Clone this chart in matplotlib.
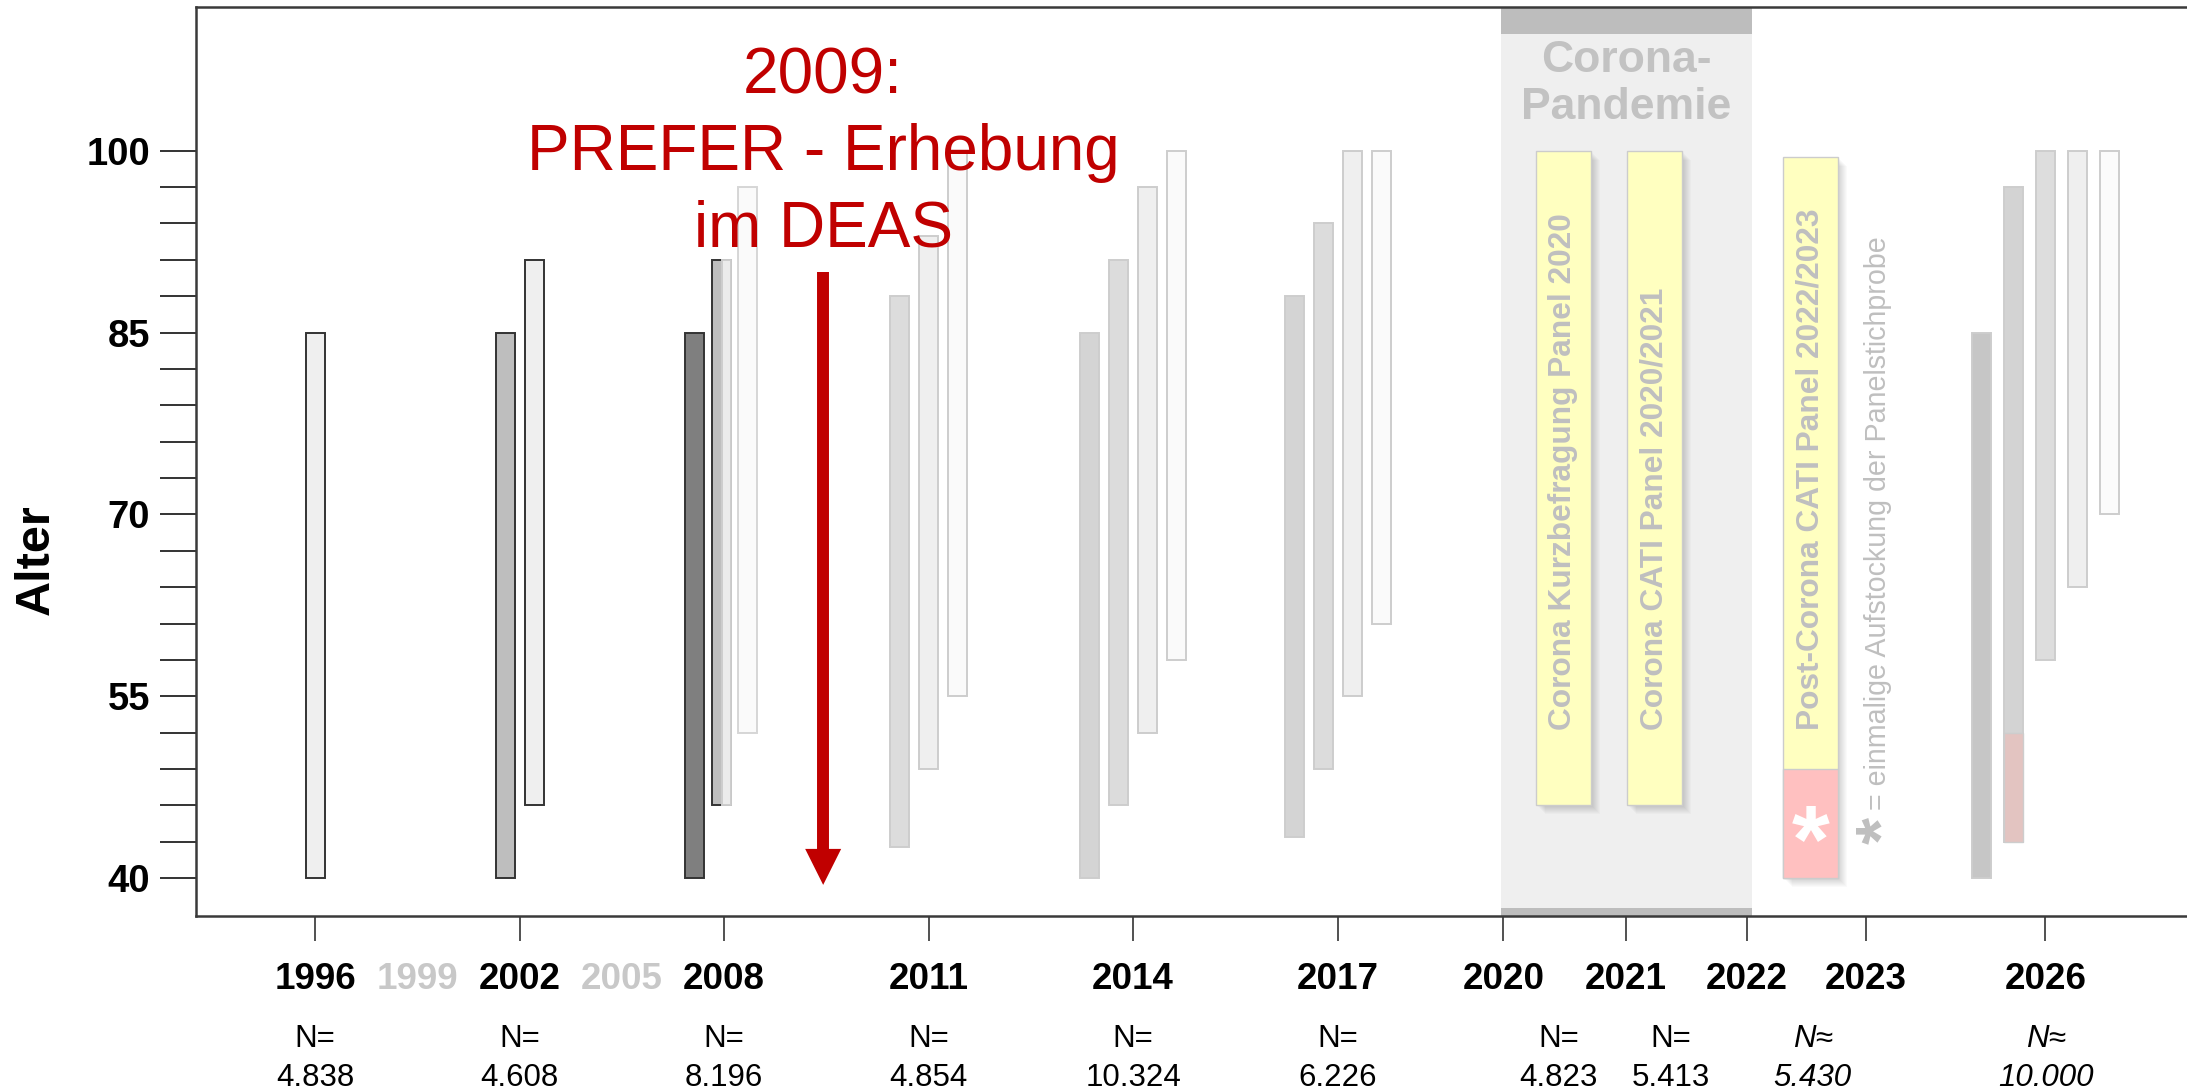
import matplotlib
matplotlib.use('Agg')
import matplotlib.pyplot as plt
from matplotlib.patches import Rectangle
from matplotlib.transforms import blended_transform_factory

plt.rcParams['font.family'] = ['Liberation Sans', 'DejaVu Sans']

# ---- data ----
wave_labels = ['1996', '2002', '2008', '2011', '2014', '2017', '2026']
wave_n = ['4.838', '4.608', '8.196', '4.854', '10.324', '6.226', '10.000']
wave_n_prefix = ['N=', 'N=', 'N=', 'N=', 'N=', 'N=', 'N\u2248']
# age range (from, to) of each sample bar in a wave
age_lo = [[40], [40, 46], [40, 46, 46, 52], [42.6, 49, 55], [40, 46, 52, 58],
          [43.4, 49, 55, 61], [40, 43, 58, 64, 70]]
age_hi = [[85], [85, 91], [85, 91, 91, 97], [88, 93, 100], [85, 91, 97, 100],
          [88, 94, 100, 100], [85, 97, 100, 100, 100]]
topup_2026 = (43, 52)      # pink part of the 2026 bar

gap_labels = ['1999', '2005']

corona_labels = ['2020', '2021', '2022', '2023']
corona_names = ['Corona Kurzbefragung Panel 2020', 'Corona CATI Panel 2020/2021',
                'Post-Corona CATI Panel 2022/2023']
corona_lo = [46, 46, 40]
corona_hi = [100, 100, 99.5]
topup_2023 = (40, 49)      # pink part (Aufstockung)
corona_n = ['4.823', '5.413', '5.430']
corona_n_prefix = ['N=', 'N=', 'N\u2248']

arrow_from, arrow_to = 90, 39.45

ytick_vals = list(range(40, 101, 3))
ytick_labels = [str(v) if (v - 40) % 15 == 0 else '' for v in ytick_vals]

# ---- layout ----
wave_x = [0, 3, 6, 9, 12, 15, 25.384]
bar_step = [0.425, 0.425, None, 0.425, 0.425, 0.425, 0.47]
offsets_2008 = [-0.433, -0.041, 0.032, 0.34]
widths_2008 = [0.279, 0.279, 0.132, 0.279]
bar_w = 0.279
gap_x = [1.5, 4.5]
corona_x = [17.433, 19.227, 21.002, 22.752]
corona_bar_x = [18.313, 19.649, 21.938]
corona_bar_w = 0.8
corona_n_x = [18.24, 19.89, 21.97]
band = (17.394, 21.084)
arrow_x = 7.454

fills = [['#efefef'], ['#bebebe', '#efefef'], ['#7f7f7f', '#bebebe', '#ebebeb', '#fafafa'],
         ['#dcdcdc', '#efefef', '#fafafa'], ['#d4d4d4', '#dcdcdc', '#efefef', '#fafafa'],
         ['#d4d4d4', '#dcdcdc', '#efefef', '#fafafa'],
         ['#c6c6c6', '#d3d3d3', '#dddddd', '#efefef', '#fbfbfb']]
dark = '#333333'
light = '#cdcdcd'
edges = [[dark], [dark, dark], [dark, dark, light, '#d6d6d6'], [light] * 3, [light] * 4,
         [light] * 4, [light] * 5]
red = '#c00000'
yellow = '#ffffc0'
pink = '#ffc0c0'
txt_grey = '#bfbfbf'

W, H = 2187, 1089
fig = plt.figure(figsize=(W / 100, H / 100), dpi=100)
ax = fig.add_axes([196 / W, 1 - 915.7 / H, (W - 196) / W, 909 / H])
ax.set_xlim(-1.746, 27.46)
ax.set_ylim(36.91, 111.88)
px_x = (W - 196) / (27.46 + 1.746)
px_y = 909 / (111.88 - 36.91)

# corona band
ax.axvspan(band[0], band[1], color='#efefef', lw=0, zorder=0)
ax.add_patch(Rectangle((band[0], 109.6), band[1] - band[0], 3, color='#bdbdbd', lw=0, zorder=0.5))
ax.add_patch(Rectangle((band[0], 36.0), band[1] - band[0], 1.57, color='#bdbdbd', lw=0, zorder=0.5))
ax.text(sum(band) / 2, 106.49, 'Corona-', ha='center', va='baseline', fontsize=32,
        weight='bold', color='#c2c2c2')
ax.text(sum(band) / 2, 102.61, 'Pandemie', ha='center', va='baseline', fontsize=32,
        weight='bold', color='#c2c2c2')

# regular waves
for i in range(len(wave_labels)):
    n = len(age_lo[i])
    for j in range(n):
        if bar_step[i] is None:
            xc = wave_x[i] + offsets_2008[j]
            w = widths_2008[j]
        else:
            xc = wave_x[i] + (j - (n - 1) / 2) * bar_step[i]
            w = bar_w
        ax.bar(xc, age_hi[i][j] - age_lo[i][j], bottom=age_lo[i][j], width=w,
               color=fills[i][j], edgecolor=edges[i][j], linewidth=1.4, zorder=2)
        if wave_labels[i] == '2026' and j == 1:
            ax.bar(xc, topup_2026[1] - topup_2026[0], bottom=topup_2026[0], width=w,
                   color='#e3c4c1', edgecolor=light, linewidth=1.0, zorder=2.1)

# corona bars with soft shadow
for k in range(len(corona_names)):
    x0 = corona_bar_x[k] - corona_bar_w / 2
    h = corona_hi[k] - corona_lo[k]
    for s in range(1, 10):
        ax.add_patch(Rectangle((x0 + s * 1.0 / px_x, corona_lo[k] - s * 1.0 / px_y),
                               corona_bar_w, h, color='k', alpha=0.018, lw=0, zorder=1))
    ax.bar(corona_bar_x[k], h, bottom=corona_lo[k], width=corona_bar_w,
           color=yellow, edgecolor='#cccccc', linewidth=1.0, zorder=2)
    ax.text(corona_bar_x[k], 52.2, corona_names[k], rotation=90, ha='center', va='bottom',
            fontsize=22.8, weight='bold', color=txt_grey, zorder=3)
ax.bar(corona_bar_x[2], topup_2023[1] - topup_2023[0], bottom=topup_2023[0],
       width=corona_bar_w, color=pink, edgecolor='#cccccc', linewidth=1.0, zorder=2.1)
ax.text(corona_bar_x[2], 40.5, '*', ha='center', va='baseline', fontsize=70,
        weight='bold', color='white', zorder=3)

# footnote for the asterisk
ax.text(23.03, 43.9, '*', rotation=90, ha='center', va='center', fontsize=50,
        weight='bold', color=txt_grey)
ax.text(22.93, 45.6, '= einmalige Aufstockung der Panelstichprobe', rotation=90,
        ha='center', va='bottom', fontsize=20.6, color=txt_grey)

# PREFER annotation
for yb, line in zip([104.76, 98.41, 92.14], ['2009:', 'PREFER - Erhebung', 'im DEAS']):
    ax.text(arrow_x, yb, line, ha='center', va='baseline', fontsize=46, color=red, zorder=5)
head_len = 36 / px_y
head_half = 18 / px_x
ax.plot([arrow_x, arrow_x], [arrow_from, arrow_to + head_len], color=red, lw=8.6,
        solid_capstyle='butt', zorder=5)
ax.fill([arrow_x - head_half, arrow_x + head_half, arrow_x],
        [arrow_to + head_len, arrow_to + head_len, arrow_to], color=red, lw=0, zorder=5)

# axes styling
for side in ['left', 'top', 'bottom']:
    ax.spines[side].set_linewidth(1.8)
    ax.spines[side].set_color('#3a3a3a')
ax.spines['right'].set_visible(False)
ax.set_yticks(ytick_vals)
ax.set_yticklabels(ytick_labels, fontsize=27.5, weight='bold')
ax.tick_params(axis='y', length=26, width=1.4, pad=7, color='#333333')
ax.set_xticks(wave_x + corona_x)
ax.set_xticklabels([''] * (len(wave_x) + len(corona_x)))
ax.tick_params(axis='x', length=18, width=1.2, color='#333333')

# labels below the axis
tr = blended_transform_factory(ax.transData, fig.transFigure)
y_year = 1 - 989.3 / H
y_npre = 1 - 1046.7 / H
y_nval = 1 - 1086 / H
for i, lab in enumerate(wave_labels):
    style = 'italic' if wave_n_prefix[i] != 'N=' else 'normal'
    ax.text(wave_x[i], y_year, lab, transform=tr, ha='center', va='baseline',
            fontsize=26.5, weight='bold')
    ax.text(wave_x[i], y_npre, wave_n_prefix[i], transform=tr, ha='center',
            va='baseline', fontsize=22.5, style=style)
    ax.text(wave_x[i], y_nval, wave_n[i], transform=tr, ha='center', va='baseline',
            fontsize=22.5, style=style)
for i, lab in enumerate(gap_labels):
    ax.text(gap_x[i], y_year, lab, transform=tr, ha='center', va='baseline',
            fontsize=26.5, weight='bold', color='#c8c8c8')
for i, lab in enumerate(corona_labels):
    ax.text(corona_x[i], y_year, lab, transform=tr, ha='center', va='baseline',
            fontsize=26.5, weight='bold')
for i in range(len(corona_n)):
    style = 'italic' if corona_n_prefix[i] != 'N=' else 'normal'
    ax.text(corona_n_x[i], y_npre, corona_n_prefix[i], transform=tr, ha='center',
            va='baseline', fontsize=22.5, style=style)
    ax.text(corona_n_x[i], y_nval, corona_n[i], transform=tr, ha='center',
            va='baseline', fontsize=22.5, style=style)

fig.text(36 / W, 1 - 560 / H, 'Alter', rotation=90, ha='center', va='center',
         fontsize=35, weight='bold')

fig.savefig('out.png', dpi=100)
